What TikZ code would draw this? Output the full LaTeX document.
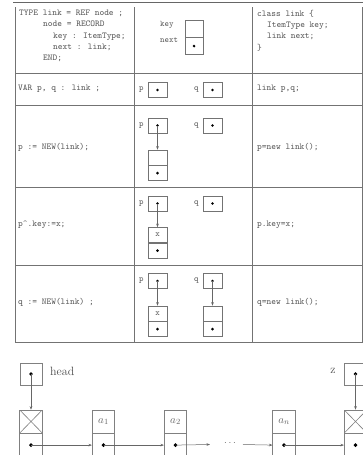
\documentclass[tikz,border=0pt]{standalone}
\usetikzlibrary{arrows.meta,positioning}
\begin{document}
\begin{tikzpicture}[x=1pt,y=-1pt,>={Stealth[length=3.5pt,width=2.6pt]},
 code/.style={font=\fontsize{9}{11.2}\selectfont\ttfamily,text=black!65,anchor=west,inner sep=0pt,align=left},
 lbl/.style={font=\fontsize{8.5}{9}\selectfont\ttfamily,text=black!65,inner sep=1pt},
 grid/.style={draw=black!55,line width=0.7pt},
 cell/.style={draw=black!55,line width=0.6pt,minimum width=19pt,minimum height=15pt,inner sep=0pt,font=\fontsize{8.5}{9}\selectfont\ttfamily,text=black!65},
 ptr/.style={cell,path picture={\fill (path picture bounding box.center) circle (1.4pt);}},
 lcell/.style={draw=black!50,line width=0.6pt,minimum width=22.5pt,minimum height=23pt,inner sep=0pt,font=\fontsize{11}{12}\selectfont,text=black!60},
 lptr/.style={lcell,path picture={\fill (path picture bounding box.center) circle (1.9pt);}},
 xcell/.style={lcell,path picture={\draw[black!50] (path picture bounding box.south west)--(path picture bounding box.north east) (path picture bounding box.north west)--(path picture bounding box.south east);}},
 tag/.style={font=\fontsize{12}{14}\selectfont,text=black!70,inner sep=0pt},
 link/.style={->,draw=black!60,line width=0.5pt}]
\clip (0,0) rectangle (363,455);
\useasboundingbox (0,0) rectangle (363,455);
% table
\draw[black!60,line width=1.6pt] (13,2.5)--(363,2.5);
\draw[grid] (15,7)--(15,342)--(362,342)--(362,7);
\draw[grid] (134.5,7)--(134.5,342); \draw[grid] (252,7)--(252,342);
\draw[grid] (15,73)--(362,73); \draw[grid] (15,105)--(362,105);
\draw[grid] (15,187)--(362,187); \draw[grid] (15,265)--(362,265);
% left column
\node[code,anchor=north west] (c1) at (19,10) {TYPE link = REF node ;\\\hspace*{24pt}node = RECORD\\\hspace*{34pt}key : ItemType;\\\hspace*{34pt}next : link;\\\hspace*{24pt}END;};
\node[code] (c2) at (18,89) {VAR p, q : link ;};
\node[code] (c3) at (18,147) {p := NEW(link);};
\node[code] (c4) at (18,225) {p\textasciicircum.key:=x;};
\node[code] (c5) at (18,302) {q := NEW(link) ;};
% right column
\node[code,anchor=north west] (j1) at (257,10) {class link \{\\\hspace*{10pt}ItemType key;\\\hspace*{10pt}link next;\\\}};
\node[code] (j2) at (257,89) {link p,q;};
\node[code] (j3) at (257,147) {p=new link();};
\node[code] (j4) at (257,225) {p.key=x;};
\node[code] (j5) at (257,302) {q=new link();};
% middle column
\node[cell,minimum width=18pt,minimum height=17pt] (r1k) at (194,28.5) {};
\node[ptr,minimum width=18pt,minimum height=17pt,below=0pt of r1k] (r1n) {};
\node[lbl,anchor=west] (r1kl) at (159,25) {key};
\node[lbl,anchor=west] (r1nl) at (159,40) {next};
\node[ptr] (p2) at (157.5,90) {}; \node[ptr] (q2) at (212.5,90) {};
\node[lbl,left=3pt of p2] (p2l) {p}; \node[lbl,left=3pt of q2] (q2l) {q};
\node[ptr] (p3) at (157.5,125.5) {}; \node[ptr] (q3) at (212.5,125.5) {};
\node[lbl,left=3pt of p3] (p3l) {p}; \node[lbl,left=3pt of q3] (q3l) {q};
\node[cell] (r3k) at (157.5,157.5) {}; \node[ptr,below=0pt of r3k] (r3n) {};
\draw[link] (p3.center)--(r3k.north);
\node[ptr] (p4) at (157.5,203.5) {}; \node[ptr] (q4) at (212.5,203.5) {};
\node[lbl,left=3pt of p4] (p4l) {p}; \node[lbl,left=3pt of q4] (q4l) {q};
\node[cell] (r4k) at (157.5,235) {x}; \node[ptr,below=0pt of r4k] (r4n) {};
\draw[link] (p4.center)--(r4k.north);
\node[ptr] (p5) at (157.5,281) {}; \node[ptr] (q5) at (212.5,281) {};
\node[lbl,left=3pt of p5] (p5l) {p}; \node[lbl,left=3pt of q5] (q5l) {q};
\node[cell] (r5k) at (157.5,313.5) {x}; \node[ptr,below=0pt of r5k] (r5n) {};
\node[cell] (s5k) at (212.5,313.5) {}; \node[ptr,below=0pt of s5k] (s5n) {};
\draw[link] (p5.center)--(r5k.north); \draw[link] (q5.center)--(s5k.north);
% linked list
\node[lptr,minimum width=22pt,minimum height=22pt] (head) at (31,374) {};
\node[tag,anchor=west] (headl) at (50,371) {head};
\node[xcell] (h0k) at (31,421.5) {}; \node[lptr,below=0pt of h0k] (h0n) {};
\node[lcell] (a1k) at (103.5,421.5) {$a_1$}; \node[lptr,below=0pt of a1k] (a1n) {};
\node[lcell] (a2k) at (175.5,421.5) {$a_2$}; \node[lptr,below=0pt of a2k] (a2n) {};
\node[lcell] (ank) at (284,421.5) {$a_n$}; \node[lptr,below=0pt of ank] (ann) {};
\node[xcell] (zk) at (355.5,421.5) {}; \node[lptr,below=0pt of zk] (zn) {};
\node[lptr,minimum width=22pt,minimum height=22pt] (z) at (355.5,374) {};
\node[tag] (zl) at (333,371) {z};
\node[text=black!60] (dots) at (230,443) {$\cdots$};
\coordinate (d1) at (210,444.5); \coordinate (d2) at (243,444.5);
\draw[link] (head.center)--(h0k.north); \draw[link] (z.center)--(zk.north);
\draw[link] (h0n.center)--(a1n.west); \draw[link] (a1n.center)--(a2n.west);
\draw[link] (a2n.center)--(d1); \draw[link] (d2)--(ann.west);
\draw[link] (ann.center)--(zn.west);
\end{tikzpicture}
\end{document}
